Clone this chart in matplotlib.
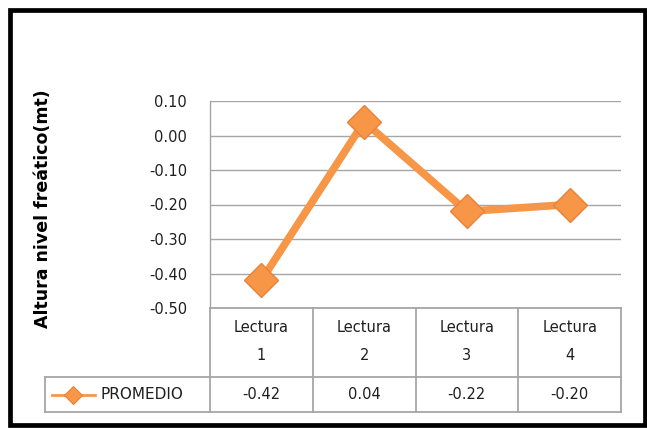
import matplotlib
matplotlib.use("Agg")
import matplotlib.pyplot as plt
import matplotlib.transforms as mtransforms
from matplotlib.patches import Rectangle
from matplotlib.lines import Line2D

categories = ["Lectura\n1", "Lectura\n2", "Lectura\n3", "Lectura\n4"]
series_name = "PROMEDIO"
promedio = [-0.42, 0.04, -0.22, -0.20]
value_labels = ["-0.42", "0.04", "-0.22", "-0.20"]
y_ticks = [0.10, 0.00, -0.10, -0.20, -0.30, -0.40, -0.50]
y_label = "Altura nivel freático(mt)"

W, H = 647, 428
orange = "#F79646"
orange_edge = "#E5833A"
grid_gray = "#A6A6A6"
text_col = "#1F1F1F"
fs = 10.5

fig = plt.figure(figsize=(W / 100, H / 100), dpi=100)
fig.patch.set_facecolor("white")

# outer chart border
bl, bt, br, bb = 9.5, 9.5, 644.5, 425.0
fig.add_artist(Rectangle((bl / W, 1 - bb / H), (br - bl) / W, (bb - bt) / H,
                         transform=fig.transFigure, fill=False,
                         edgecolor="black", linewidth=3.4))

# plot area
x0, x1, ytop, ybot = 210, 621, 101, 308
ax = fig.add_axes([x0 / W, 1 - ybot / H, (x1 - x0) / W, (ybot - ytop) / H])
xs = list(range(len(categories)))
ax.set_xlim(-0.5, len(categories) - 0.5)
ax.set_ylim(-0.5, 0.1)
ax.set_yticks(y_ticks)
ax.set_yticklabels([f"{v:.2f}" for v in y_ticks], fontsize=fs, color=text_col)
ax.tick_params(axis="y", length=0, pad=16.5)
ax.set_xticks([])
for s in ["top", "right", "bottom"]:
    ax.spines[s].set_visible(False)
ax.spines["left"].set_color(grid_gray)
ax.spines["left"].set_linewidth(1.0)
ax.yaxis.grid(True, color=grid_gray, linewidth=1.0)
ax.set_axisbelow(True)

ax.plot(xs, promedio, color=orange, linewidth=5.5, solid_joinstyle="miter",
        marker="D", markersize=17, markerfacecolor=orange,
        markeredgecolor=orange_edge, markeredgewidth=1.0, zorder=3)

ax.set_ylabel(y_label, fontsize=12.5, fontweight="bold", color="black",
              labelpad=0)
ax.yaxis.set_label_coords(-(x0 - 52) / (x1 - x0), (ybot - 209) / (ybot - ytop))

# data table under the plot, in category units horizontally
tr = mtransforms.blended_transform_factory(ax.transData, ax.transAxes)
ph = ybot - ytop
row1 = -(377 - ybot) / ph
row2 = -(412 - ybot) / ph
px_per_unit = (x1 - x0) / len(categories)
leg_left = -0.5 - (x0 - 45) / px_per_unit
xr = len(categories) - 0.5

tbl_kw = dict(transform=tr, color=grid_gray, linewidth=1.3, clip_on=False)
ax.add_line(Line2D([-0.5, xr], [0, 0], **tbl_kw))
ax.add_line(Line2D([leg_left, xr], [row1, row1], **tbl_kw))
ax.add_line(Line2D([leg_left, xr], [row2, row2], **tbl_kw))
for i in range(len(categories) + 1):
    ax.add_line(Line2D([i - 0.5, i - 0.5], [0, row2], **tbl_kw))
ax.add_line(Line2D([leg_left, leg_left], [row1, row2], **tbl_kw))

cat_mid = -(341.5 - ybot) / ph
for i, (cat, lab) in enumerate(zip(categories, value_labels)):
    ax.text(i, cat_mid, cat, transform=tr, ha="center", va="center",
            fontsize=fs, color=text_col, linespacing=2.1)
    ax.text(i, (row1 + row2) / 2, lab, transform=tr, ha="center",
            va="center", fontsize=fs, color=text_col)

# legend key inside the table
ym = (row1 + row2) / 2
key_l = leg_left + (52 - 45) / px_per_unit
key_r = leg_left + (95 - 45) / px_per_unit
ax.add_line(Line2D([key_l, key_r], [ym, ym], transform=tr, color=orange,
                   linewidth=2, clip_on=False))
ax.add_line(Line2D([(key_l + key_r) / 2], [ym], transform=tr, marker="D",
                   markersize=9, markerfacecolor=orange,
                   markeredgecolor=orange_edge, markeredgewidth=0.8,
                   linestyle="none", clip_on=False))
ax.text(leg_left + (101 - 45) / px_per_unit, ym, series_name, transform=tr,
        ha="left", va="center", fontsize=fs + 0.5, color=text_col)

fig.savefig("out.png", dpi=100)
